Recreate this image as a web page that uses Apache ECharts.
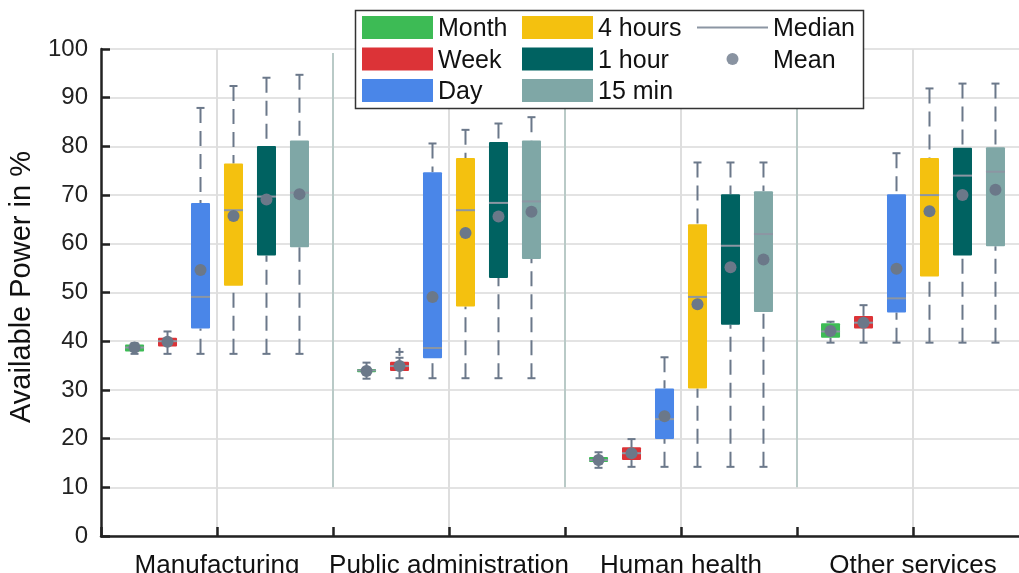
<!DOCTYPE html>
<html><head><meta charset="utf-8">
<script src="https://cdn.jsdelivr.net/npm/echarts@6/dist/echarts.min.js"></script>
<style>html,body{margin:0;padding:0;background:#fff}#c{width:1019px;height:573px}</style>
</head><body><div id="c"></div>
<script>
const categories = ['Manufacturing', 'Public administration', 'Human health', 'Other services'];
const seriesNames = ['Month', 'Week', 'Day', '4 hours', '1 hour', '15 min'];
const seriesColors = ['#3dbb55', '#dc3337', '#4a86e8', '#f4c10f', '#006261', '#7fa7a6'];

// per category: [min, q1, median, q3, max, mean]
const month = [[37.4, 37.9, 38.7, 39.3, 39.6, 38.7], [32.3, 33.6, 34.0, 34.3, 35.6, 33.9], [14.0, 15.2, 15.6, 16.2, 17.2, 15.6], [39.7, 40.7, 42.0, 43.7, 44.0, 42.1]];
const week = [[37.4, 38.9, 40.0, 40.7, 42.0, 39.9], [32.4, 33.9, 34.9, 35.8, 36.6, 34.9], [14.2, 15.6, 17.0, 18.2, 19.9, 17.0], [39.7, 42.6, 43.8, 45.2, 47.4, 43.8]];
const day = [[37.4, 42.6, 49.1, 68.4, 87.9, 54.6], [32.4, 36.5, 38.6, 74.7, 80.6, 49.1], [14.2, 19.9, 24.0, 30.3, 36.7, 24.6], [39.7, 45.9, 48.8, 70.2, 78.6, 54.9]];
const hours4 = [[37.4, 51.4, 66.9, 76.5, 92.4, 65.7], [32.4, 47.1, 66.9, 77.6, 83.4, 62.2], [14.2, 30.3, 49.1, 64.0, 76.7, 47.6], [39.7, 53.3, 70.0, 77.6, 91.9, 66.7]];
const hour1 = [[37.4, 57.6, 69.7, 80.1, 94.1, 69.1], [32.4, 53.0, 68.4, 80.9, 84.7, 65.6], [14.2, 43.4, 59.6, 70.2, 76.7, 55.2], [39.7, 57.6, 74.0, 79.7, 92.9, 70.0]];
const min15 = [[37.4, 59.3, 70.5, 81.2, 94.7, 70.2], [32.4, 56.9, 68.7, 81.2, 86.0, 66.6], [14.2, 46.0, 62.0, 70.8, 76.7, 56.8], [39.7, 59.5, 74.8, 79.8, 92.9, 71.1]];
// outliers: [series, category, value]
const outlierPoints = [['Week', 'Public administration', 37.8]];

const allStats = [month, week, day, hours4, hour1, min15];
const FONT = 'Liberation Sans, Arial, sans-serif';
const WHISKER = '#6b788a';
const MEDIAN = '#8c96a3';
const MEAN = '#6b7889';

function makeRender(k) {
  return function (params, api) {
    const ci = api.value(0);
    const bw = api.size([1, 0])[0];
    const step = bw * 0.1422;
    const half = bw * 0.041;
    const cx = api.coord([ci, 0])[0] + (k - 2.5) * step;
    const Y = v => api.coord([ci, v])[1];
    const mn = Y(api.value(1)), q1 = Y(api.value(2)), md = Y(api.value(3)),
          q3 = Y(api.value(4)), mx = Y(api.value(5)), me = Y(api.value(6));
    const ws = { stroke: WHISKER, lineWidth: 2, lineDash: [15, 8] };
    const cs = { stroke: WHISKER, lineWidth: 2 };
    const ch = [
      { type: 'line', shape: { x1: cx, y1: mx, x2: cx, y2: q3 }, style: ws },
      { type: 'line', shape: { x1: cx, y1: mn, x2: cx, y2: q1 }, style: ws },
      { type: 'line', shape: { x1: cx - 4, y1: mx, x2: cx + 4, y2: mx }, style: cs },
      { type: 'line', shape: { x1: cx - 4, y1: mn, x2: cx + 4, y2: mn }, style: cs },
      { type: 'rect', shape: { x: cx - half, y: q3, width: half * 2, height: q1 - q3, r: 1 }, style: { fill: seriesColors[k] } },
      { type: 'line', shape: { x1: cx - half, y1: md, x2: cx + half, y2: md }, style: { stroke: MEDIAN, lineWidth: 2 } }
    ];
    outlierPoints.forEach(o => {
      if (o[0] === seriesNames[k] && o[1] === categories[ci]) {
        const oy = Y(o[2]);
        ch.push({ type: 'line', shape: { x1: cx - 4, y1: oy, x2: cx + 4, y2: oy }, style: cs });
        ch.push({ type: 'line', shape: { x1: cx, y1: oy - 4, x2: cx, y2: oy + 4 }, style: cs });
      }
    });
    ch.push({ type: 'circle', shape: { cx: cx, cy: me, r: 6 }, style: { fill: MEAN } });
    return { type: 'group', children: ch };
  };
}

const boxSeries = seriesNames.map((name, k) => ({
  name: name,
  type: 'custom',
  xAxisIndex: 0,
  z: 3,
  itemStyle: { color: seriesColors[k] },
  encode: { x: 0, y: [1, 2, 3, 4, 5, 6] },
  data: allStats[k].map((s, i) => [i].concat(s)),
  renderItem: makeRender(k),
  silent: true
}));

const separatorSeries = {
  type: 'custom',
  xAxisIndex: 0,
  z: 1,
  silent: true,
  data: [[0], [1], [2]],
  renderItem: function (params, api) {
    const ci = api.value(0);
    const bw = api.size([1, 0])[0];
    const x = api.coord([ci, 0])[0] + bw / 2;
    return { type: 'line', shape: { x1: x, y1: api.coord([ci, 10])[1], x2: x, y2: api.coord([ci, 100])[1] + 4 }, style: { stroke: '#b9cac7', lineWidth: 2 } };
  }
};

// legend icons: 71x27 box, swatch drawn in the upper 23 px
const ICON_RECT = 'path://M0,0L71,0L71,23L0,23ZM71,27';
const ICON_LINE = 'path://M0,0M71,27M0,10.5L71,10.5L71,12.5L0,12.5Z';
const ICON_DOT = 'path://M0,0M71,27M29.5,11.5A6,6,0,1,0,41.5,11.5A6,6,0,1,0,29.5,11.5Z';

const legendBase = {
  orient: 'vertical', top: 16, itemWidth: 71, itemHeight: 27, itemGap: 4.5, padding: 0,
  selectedMode: false,
  textStyle: { fontSize: 25, color: '#111', fontFamily: FONT, lineHeight: 25 }
};

const chart = echarts.init(document.getElementById('c'), null, { renderer: 'canvas' });
chart.setOption({
  animation: false,
  backgroundColor: '#fff',
  textStyle: { fontFamily: FONT },
  grid: { left: 101, top: 49, width: 928, height: 487, containLabel: false, outerBoundsMode: 'none' },
  legend: [
    Object.assign({}, legendBase, { left: 362, data: seriesNames.slice(0, 3).map(n => ({ name: n, icon: ICON_RECT })) }),
    Object.assign({}, legendBase, { left: 522, data: seriesNames.slice(3, 6).map(n => ({ name: n, icon: ICON_RECT })) }),
    Object.assign({}, legendBase, { left: 697, data: [
      { name: 'Median', icon: ICON_LINE },
      { name: 'Mean', icon: ICON_DOT }
    ] })
  ],
  graphic: [
    { type: 'rect', z: 3, shape: { x: 355.5, y: 10.5, width: 508, height: 98 }, style: { fill: '#fff', stroke: '#333', lineWidth: 1.5 } }
  ],
  xAxis: [
    {
      type: 'category', data: categories, position: 'bottom',
      axisLine: { show: true, lineStyle: { color: '#222', width: 2.5 } },
      axisTick: { show: false },
      axisLabel: { interval: 0, fontSize: 26, color: '#111', margin: 17, fontFamily: FONT },
      splitLine: { show: false }
    },
    {
      type: 'value', min: 0, max: 8, interval: 1, position: 'bottom',
      axisLine: { show: false },
      axisTick: { show: true, inside: true, length: 9, lineStyle: { color: '#222', width: 2.5 } },
      axisLabel: { show: false },
      splitLine: { show: true, lineStyle: { color: ['rgba(0,0,0,0)', '#dedede'], width: 2 } }
    }
  ],
  yAxis: {
    type: 'value', min: 0, max: 100, interval: 10,
    name: 'Available Power in %', nameLocation: 'middle', nameGap: 65, nameRotate: 90,
    nameTextStyle: { fontSize: 29, color: '#111', fontFamily: FONT, padding: [0, 0, 0, 11] },
    axisLine: { show: true, lineStyle: { color: '#222', width: 2.5 } },
    axisTick: { show: true, inside: true, length: 9, lineStyle: { color: '#222', width: 2.5 } },
    axisLabel: { fontSize: 24, color: '#222', margin: 13, fontFamily: FONT },
    splitLine: { show: true, lineStyle: { color: '#e3e3e3', width: 2 } }
  },
  series: [separatorSeries].concat(boxSeries).concat([
    { name: 'Median', type: 'line', data: [], color: MEDIAN, xAxisIndex: 0 },
    { name: 'Mean', type: 'scatter', data: [], color: MEAN, xAxisIndex: 0 }
  ])
});
</script></body></html>
